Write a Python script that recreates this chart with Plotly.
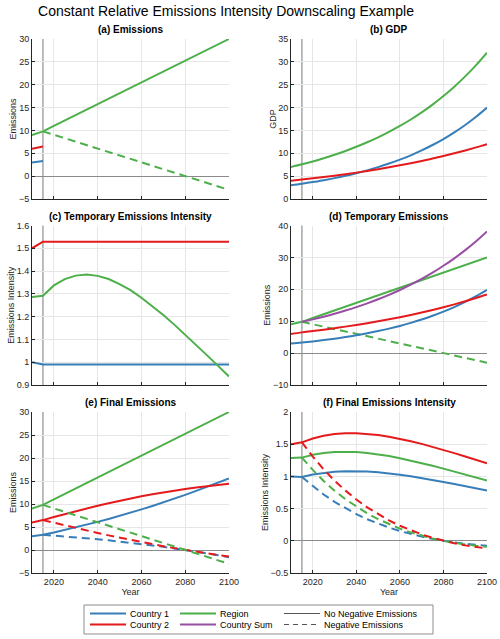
import plotly.graph_objects as go

# ---------------- data ----------------
YEARS = [2010, 2015, 2020, 2025, 2030, 2035, 2040, 2045, 2050, 2055,
         2060, 2065, 2070, 2075, 2080, 2085, 2090, 2095, 2100]
YEARS_HIST = [2010, 2015]
YEARS_FUT = YEARS[1:]
BASE_YEAR = 2015

# (a) Emissions
EMIS_C1_HIST = [3.0, 3.3]
EMIS_C2_HIST = [6.0, 6.5]
EMIS_REGION = [9.0, 9.80, 10.99, 12.18, 13.36, 14.55, 15.74, 16.93, 18.12, 19.31,
               20.49, 21.68, 22.87, 24.06, 25.25, 26.44, 27.62, 28.81, 30.0]
EMIS_REGION_NEG = [9.80, 9.05, 8.29, 7.54, 6.79, 6.04, 5.28, 4.53, 3.78,
                   3.02, 2.27, 1.52, 0.76, 0.01, -0.74, -1.49, -2.25, -3.0]

# (b) GDP
GDP_C1 = [3.0, 3.33, 3.70, 4.12, 4.57, 5.08, 5.65, 6.27, 6.97, 7.75,
          8.61, 9.56, 10.63, 11.81, 13.12, 14.58, 16.2, 18.0, 20.0]
GDP_C2 = [4.0, 4.25, 4.52, 4.80, 5.11, 5.43, 5.77, 6.13, 6.52, 6.93,
          7.37, 7.83, 8.32, 8.85, 9.40, 9.99, 10.62, 11.29, 12.0]
GDP_REGION = [7.0, 7.59, 8.22, 8.92, 9.68, 10.51, 11.42, 12.41, 13.49, 14.68,
              15.97, 17.39, 18.95, 20.65, 22.52, 24.57, 26.82, 29.29, 32.0]

# (c) Temporary Emissions Intensity
TEMP_INT_C1 = [1.0, 0.99, 0.99, 0.99, 0.99, 0.99, 0.99, 0.99, 0.99, 0.99,
               0.99, 0.99, 0.99, 0.99, 0.99, 0.99, 0.99, 0.99, 0.99]
TEMP_INT_C2 = [1.5, 1.529, 1.529, 1.529, 1.529, 1.529, 1.529, 1.529, 1.529, 1.529,
               1.529, 1.529, 1.529, 1.529, 1.529, 1.529, 1.529, 1.529, 1.529]
TEMP_INT_REGION = [1.286, 1.292, 1.337, 1.365, 1.380, 1.385, 1.379, 1.365, 1.343, 1.316,
                   1.283, 1.247, 1.207, 1.165, 1.121, 1.076, 1.030, 0.984, 0.9375]

# (d) Temporary Emissions
TEMP_EMIS_C1 = [3.0, 3.30, 3.67, 4.08, 4.53, 5.03, 5.59, 6.21, 6.90, 7.67,
                8.52, 9.47, 10.52, 11.69, 12.99, 14.43, 16.04, 17.82, 19.8]
TEMP_EMIS_C2 = [6.0, 6.50, 6.91, 7.35, 7.81, 8.30, 8.82, 9.38, 9.97, 10.59,
                11.26, 11.97, 12.72, 13.52, 14.38, 15.28, 16.24, 17.26, 18.35]
TEMP_EMIS_SUM = [9.80, 10.58, 11.42, 12.33, 13.33, 14.41, 15.59, 16.87, 18.26,
                 19.78, 21.44, 23.24, 25.21, 27.37, 29.71, 32.28, 35.08, 38.15]

# (e) Final Emissions
FINAL_EMIS_C1 = [3.0, 3.30, 3.81, 4.35, 4.90, 5.49, 6.11, 6.75, 7.41, 8.11,
                 8.83, 9.58, 10.35, 11.15, 11.99, 12.85, 13.72, 14.63, 15.57]
FINAL_EMIS_C2 = [6.0, 6.50, 7.18, 7.83, 8.46, 9.06, 9.63, 10.18, 10.71, 11.20,
                 11.67, 12.10, 12.52, 12.91, 13.26, 13.60, 13.90, 14.18, 14.43]
FINAL_EMIS_C1_NEG = [3.30, 3.14, 2.96, 2.77, 2.56, 2.34, 2.10, 1.85, 1.59,
                     1.30, 1.00, 0.69, 0.35, 0.005, -0.36, -0.74, -1.14, -1.56]
FINAL_EMIS_C2_NEG = [6.50, 5.91, 5.33, 4.77, 4.23, 3.70, 3.18, 2.68, 2.19,
                     1.72, 1.27, 0.83, 0.41, 0.005, -0.38, -0.75, -1.11, -1.44]

# (f) Final Emissions Intensity
FINAL_INT_C1 = [1.0, 0.99, 1.029, 1.056, 1.072, 1.081, 1.081, 1.075, 1.063, 1.047,
                1.025, 1.001, 0.974, 0.945, 0.914, 0.881, 0.847, 0.813, 0.779]
FINAL_INT_C2 = [1.5, 1.529, 1.589, 1.630, 1.657, 1.669, 1.669, 1.660, 1.643, 1.616,
                1.585, 1.546, 1.505, 1.460, 1.410, 1.361, 1.309, 1.256, 1.203]
FINAL_INT_REGION = TEMP_INT_REGION
FINAL_INT_C1_NEG = [0.99, 0.847, 0.719, 0.605, 0.504, 0.415, 0.335, 0.266, 0.205,
                    0.151, 0.105, 0.065, 0.030, 0.0, -0.025, -0.046, -0.064, -0.078]
FINAL_INT_C2_NEG = [1.529, 1.308, 1.110, 0.934, 0.779, 0.641, 0.519, 0.411, 0.316,
                    0.234, 0.162, 0.100, 0.046, 0.001, -0.038, -0.071, -0.098, -0.120]
FINAL_INT_REGION_NEG = [1.292, 1.101, 0.929, 0.779, 0.646, 0.529, 0.426, 0.336, 0.258,
                        0.189, 0.131, 0.080, 0.037, 0.0, -0.030, -0.056, -0.077, -0.094]

X_TICKS = [2020, 2040, 2060, 2080, 2100]

PANEL_TITLES = ["(a) Emissions", "(b) GDP", "(c) Temporary Emissions Intensity",
                "(d) Temporary Emissions", "(e) Final Emissions",
                "(f) Final Emissions Intensity"]
Y_TITLES = ["Emissions", "GDP", "Emissions Intensity", "Emissions",
            "Emissions", "Emissions Intensity"]
Y_RANGES = [(-5, 30), (0, 35), (0.9, 1.6), (-10, 40), (-5, 30), (-0.5, 2)]
Y_DTICKS = [5, 5, 0.1, 10, 5, 0.5]
ZERO_LINE = [True, False, False, True, True, True]

LEGEND_ITEMS = [("Country 1", "c1", "solid"), ("Country 2", "c2", "solid"),
                ("Region", "region", "solid"), ("Country Sum", "sum", "solid"),
                ("No Negative Emissions", "ref", "solid"),
                ("Negative Emissions", "ref", "dash")]

# ---------------- style ----------------
W, H = 500, 639
COL = {"c1": "#377eb8", "c2": "#e41a1c", "region": "#4daf4a",
       "sum": "#984ea3", "ref": "#555555"}
FONT = "Arial, Liberation Sans, sans-serif"
TXT = "#262626"
LW = 2
DASH = "8px,5px"

COL_X = [(32, 229), (291, 487)]
ROW_Y = [(39, 199), (225.5, 385), (412, 573)]


def px_x(v):
    return v / W


def px_y(v):
    return 1 - v / H


fig = go.Figure()


def add_line(panel, x, y, color, dash="solid", smooth=False):
    ax = "" if panel == 1 else str(panel)
    fig.add_trace(go.Scatter(
        x=x, y=y, mode="lines", showlegend=False, hoverinfo="skip",
        line=dict(color=COL[color], width=LW,
                  shape=("spline" if smooth else "linear"),
                  dash=(DASH if dash == "dash" else "solid")),
        xaxis="x" + ax, yaxis="y" + ax))


# (a)
add_line(1, YEARS_HIST, EMIS_C1_HIST, "c1")
add_line(1, YEARS_HIST, EMIS_C2_HIST, "c2")
add_line(1, YEARS_FUT, EMIS_REGION_NEG, "region", "dash")
add_line(1, YEARS, EMIS_REGION, "region")
# (b)
add_line(2, YEARS, GDP_C1, "c1", smooth=True)
add_line(2, YEARS, GDP_C2, "c2", smooth=True)
add_line(2, YEARS, GDP_REGION, "region", smooth=True)
# (c)
add_line(3, YEARS, TEMP_INT_C1, "c1")
add_line(3, YEARS, TEMP_INT_C2, "c2")
add_line(3, YEARS, TEMP_INT_REGION, "region")
# (d)
add_line(4, YEARS_FUT, EMIS_REGION_NEG, "region", "dash")
add_line(4, YEARS, TEMP_EMIS_C1, "c1", smooth=True)
add_line(4, YEARS, TEMP_EMIS_C2, "c2", smooth=True)
add_line(4, YEARS, EMIS_REGION, "region")
add_line(4, YEARS_FUT, TEMP_EMIS_SUM, "sum", smooth=True)
# (e)
add_line(5, YEARS, FINAL_EMIS_C1, "c1")
add_line(5, YEARS, FINAL_EMIS_C2, "c2")
add_line(5, YEARS, EMIS_REGION, "region")
add_line(5, YEARS_FUT, FINAL_EMIS_C1_NEG, "c1", "dash")
add_line(5, YEARS_FUT, FINAL_EMIS_C2_NEG, "c2", "dash")
add_line(5, YEARS_FUT, EMIS_REGION_NEG, "region", "dash")
# (f)
add_line(6, YEARS, FINAL_INT_C1, "c1")
add_line(6, YEARS, FINAL_INT_C2, "c2")
add_line(6, YEARS, FINAL_INT_REGION, "region")
add_line(6, YEARS_FUT, FINAL_INT_C1_NEG, "c1", "dash")
add_line(6, YEARS_FUT, FINAL_INT_REGION_NEG, "region", "dash")
add_line(6, YEARS_FUT, FINAL_INT_C2_NEG, "c2", "dash")

layout = dict(
    width=W, height=H, margin=dict(l=0, r=0, t=0, b=0),
    paper_bgcolor="white", plot_bgcolor="white", showlegend=False,
    font=dict(family=FONT, size=9, color=TXT),
    title=dict(text="Constant Relative Emissions Intensity Downscaling Example",
               x=px_x(226), y=px_y(11), xanchor="center", yanchor="middle",
               font=dict(family=FONT, size=14, color="#000000")),
)
annotations = []
shapes = []
for i in range(6):
    r, c = divmod(i, 2)
    ax = "" if i == 0 else str(i + 1)
    x0, x1 = COL_X[c]
    y0, y1 = ROW_Y[r]
    bottom = (r == 2)
    layout["xaxis" + ax] = dict(
        domain=[px_x(x0), px_x(x1)], anchor="y" + ax, range=[2010, 2100],
        tickvals=X_TICKS, showticklabels=bottom, ticks="inside", ticklen=3,
        tickcolor=TXT, showline=True, linecolor=TXT, linewidth=1,
        showgrid=True, gridcolor="#e6e6e6", gridwidth=1, zeroline=False,
        tickfont=dict(size=9, color=TXT), ticklabeloverflow="allow",
        automargin=False,
        title=dict(text="Year" if bottom else "", font=dict(size=9, color=TXT),
                   standoff=2),
    )
    lo, hi = Y_RANGES[i]
    layout["yaxis" + ax] = dict(
        domain=[px_y(y1), px_y(y0)], anchor="x" + ax, range=[lo, hi],
        dtick=Y_DTICKS[i], tick0=lo, ticks="inside", ticklen=3, tickcolor=TXT,
        showline=True, linecolor=TXT, linewidth=1, showgrid=True,
        gridcolor="#e6e6e6", gridwidth=1, automargin=False,
        zeroline=ZERO_LINE[i], zerolinecolor="#8a8a8a", zerolinewidth=1,
        tickfont=dict(size=9, color=TXT),
        title=dict(text=Y_TITLES[i], font=dict(size=9, color=TXT), standoff=0),
    )
    annotations.append(dict(
        text="<b>" + PANEL_TITLES[i] + "</b>", xref="paper", yref="paper",
        x=px_x((x0 + x1) / 2), y=px_y(y0 - 2), xanchor="center", yanchor="bottom",
        showarrow=False, font=dict(family=FONT, size=10, color="#000000")))
    shapes.append(dict(
        type="line", xref="x" + ax, yref=("y" + ax) + " domain",
        x0=BASE_YEAR, x1=BASE_YEAR, y0=0, y1=1, layer="below",
        line=dict(color="#a6a6a6", width=1.5)))

# legend (3 columns x 2 rows, drawn in paper space)
LEG_BOX = (84, 605, 433, 634)
LEG_COLS = [90, 180, 284]
LEG_ROWS = [613.5, 624.5]
LEG_SW = 36
shapes.append(dict(type="rect", xref="paper", yref="paper",
                   x0=px_x(LEG_BOX[0]), x1=px_x(LEG_BOX[2]),
                   y0=px_y(LEG_BOX[3]), y1=px_y(LEG_BOX[1]),
                   line=dict(color="#8c8c8c", width=1), fillcolor="white"))
for k, (name, ckey, dash) in enumerate(LEGEND_ITEMS):
    cx = LEG_COLS[k // 2]
    ry = LEG_ROWS[k % 2]
    shapes.append(dict(type="line", xref="paper", yref="paper",
                       x0=px_x(cx), x1=px_x(cx + LEG_SW), y0=px_y(ry), y1=px_y(ry),
                       line=dict(color=COL[ckey],
                                 width=(1.2 if ckey == "ref" else LW),
                                 dash=("5px,4px" if dash == "dash" else "solid"))))
    annotations.append(dict(text=name, xref="paper", yref="paper",
                            x=px_x(cx + LEG_SW + 2), y=px_y(ry),
                            xanchor="left", yanchor="middle", showarrow=False,
                            font=dict(family=FONT, size=9, color="#000000")))

layout["annotations"] = annotations
layout["shapes"] = shapes
fig.update_layout(**layout)
fig.write_html("out.html", config={"displayModeBar": False},
               post_script="document.body.style.margin='0px';"
                           "document.body.style.overflow='hidden';")
